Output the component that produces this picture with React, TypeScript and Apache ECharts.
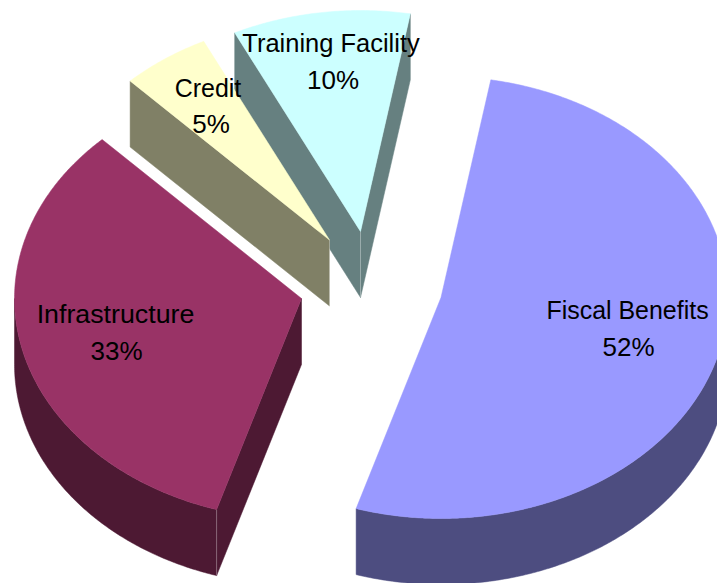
import React, { useEffect, useRef } from "react";
import * as echarts from "echarts";

const categories = ["Fiscal Benefits", "Infrastructure", "Credit", "Training Facility"];
const values = [52, 33, 5, 10];
const topColors = ["#9999FF", "#993366", "#FFFFCC", "#CCFFFF"];
const sideColors = ["#4D4D80", "#4D1933", "#808066", "#668080"];
const apexX = [441, 301.5, 329.5, 360.5];
const apexY = [297.5, 298.5, 240, 231.5];
const nameX = [627.5, 115.5, 208, 331];
const nameY = [310, 314, 88, 43];
const nameScale = [0.96, 1.03, 0.96, 0.98];
const pctX = [628.5, 116.5, 211, 333];
const pctY = [347, 351, 124, 80];
const drawOrder = [3, 2, 1, 0];

const RX = 287;
const RY = 221;
const DEPTH = 66;
const START_DEG = 10;
const FONT = '26px "Liberation Sans", Arial, sans-serif';
const total = values.reduce((a, b) => a + b, 0);

function pt(cx: number, cy: number, deg: number, dy = 0): number[] {
  const t = (deg * Math.PI) / 180;
  return [cx + RX * Math.sin(t), cy - RY * Math.cos(t) + dy];
}

function arcPts(cx: number, cy: number, a: number, b: number, dy = 0): number[][] {
  const out: number[][] = [];
  const n = Math.max(2, Math.ceil(Math.abs(b - a) * 2));
  for (let i = 0; i <= n; i++) out.push(pt(cx, cy, a + ((b - a) * i) / n, dy));
  return out;
}

export default function App() {
  const ref = useRef<HTMLDivElement>(null);
  useEffect(() => {
    document.body.style.margin = "0";
    const chart = echarts.init(ref.current!, undefined, { renderer: "svg" });
    const starts: number[] = [];
    let acc = START_DEG;
    values.forEach((v) => {
      starts.push(acc);
      acc += (v / total) * 360;
    });
    const renderItem = (_p: any, api: any) => {
      const i = api.value(0) as number;
      const v = api.value(1) as number;
      const a = starts[i];
      const b = a + (v / total) * 360;
      const cx = apexX[i];
      const cy = apexY[i];
      const children: any[] = [];
      const poly = (points: number[][], fill: string) => ({
        type: "polygon",
        shape: { points },
        style: { fill, stroke: fill, lineWidth: 0.5 },
      });
      const seam = (p: number[]) => ({
        type: "line",
        shape: { x1: p[0], y1: p[1], x2: p[0], y2: p[1] + DEPTH },
        style: { stroke: "rgba(255,255,255,0.3)", lineWidth: 1 },
      });
      const side = sideColors[i];
      const radial = (deg: number) => {
        const p = pt(cx, cy, deg);
        children.push(poly([[cx, cy], p, [p[0], p[1] + DEPTH], [cx, cy + DEPTH]], side));
      };
      // Cut faces turned towards the viewer
      if (i === 1 || i === 2) radial(a);
      if (i === 3) {
        radial(a);
        radial(b);
      }
      // Outer wall: only its front half is visible
      const fa = Math.max(a, 90);
      const fb = Math.min(b, 270);
      if (fb > fa) {
        const upper = arcPts(cx, cy, fa, fb);
        const lower = arcPts(cx, cy, fb, fa, DEPTH);
        children.push(poly(upper.concat(lower), side));
      }
      if (i === 1) children.push(seam(pt(cx, cy, a)));
      if (i === 2 || i === 3) children.push(seam([cx, cy]));
      children.push(poly([[cx, cy], ...arcPts(cx, cy, a, b)], topColors[i]));
      return { type: "group", children };
    };
    const labelItem = (_p: any, api: any) => {
      const i = api.value(0) as number;
      const v = api.value(1) as number;
      const base = { fill: "#000000", font: FONT, align: "center", verticalAlign: "middle" };
      return {
        type: "group",
        children: [
          {
            type: "text",
            x: nameX[i],
            y: nameY[i],
            scaleX: nameScale[i],
            style: { ...base, x: 0, y: 0, text: categories[i] },
          },
          {
            type: "text",
            x: pctX[i],
            y: pctY[i],
            style: { ...base, x: 0, y: 0, text: `${v}%` },
          },
        ],
      };
    };
    chart.setOption({
      animation: false,
      backgroundColor: "#FFFFFF",
      series: [
        {
          type: "custom",
          coordinateSystem: "none",
          silent: true,
          renderItem,
          data: drawOrder.map((i) => [i, values[i]]),
        },
        {
          type: "custom",
          coordinateSystem: "none",
          silent: true,
          z: 5,
          renderItem: labelItem,
          data: drawOrder.map((i) => [i, values[i]]),
        },
      ],
    });
    return () => chart.dispose();
  }, []);
  return <div ref={ref} style={{ width: 717, height: 583 }} />;
}
